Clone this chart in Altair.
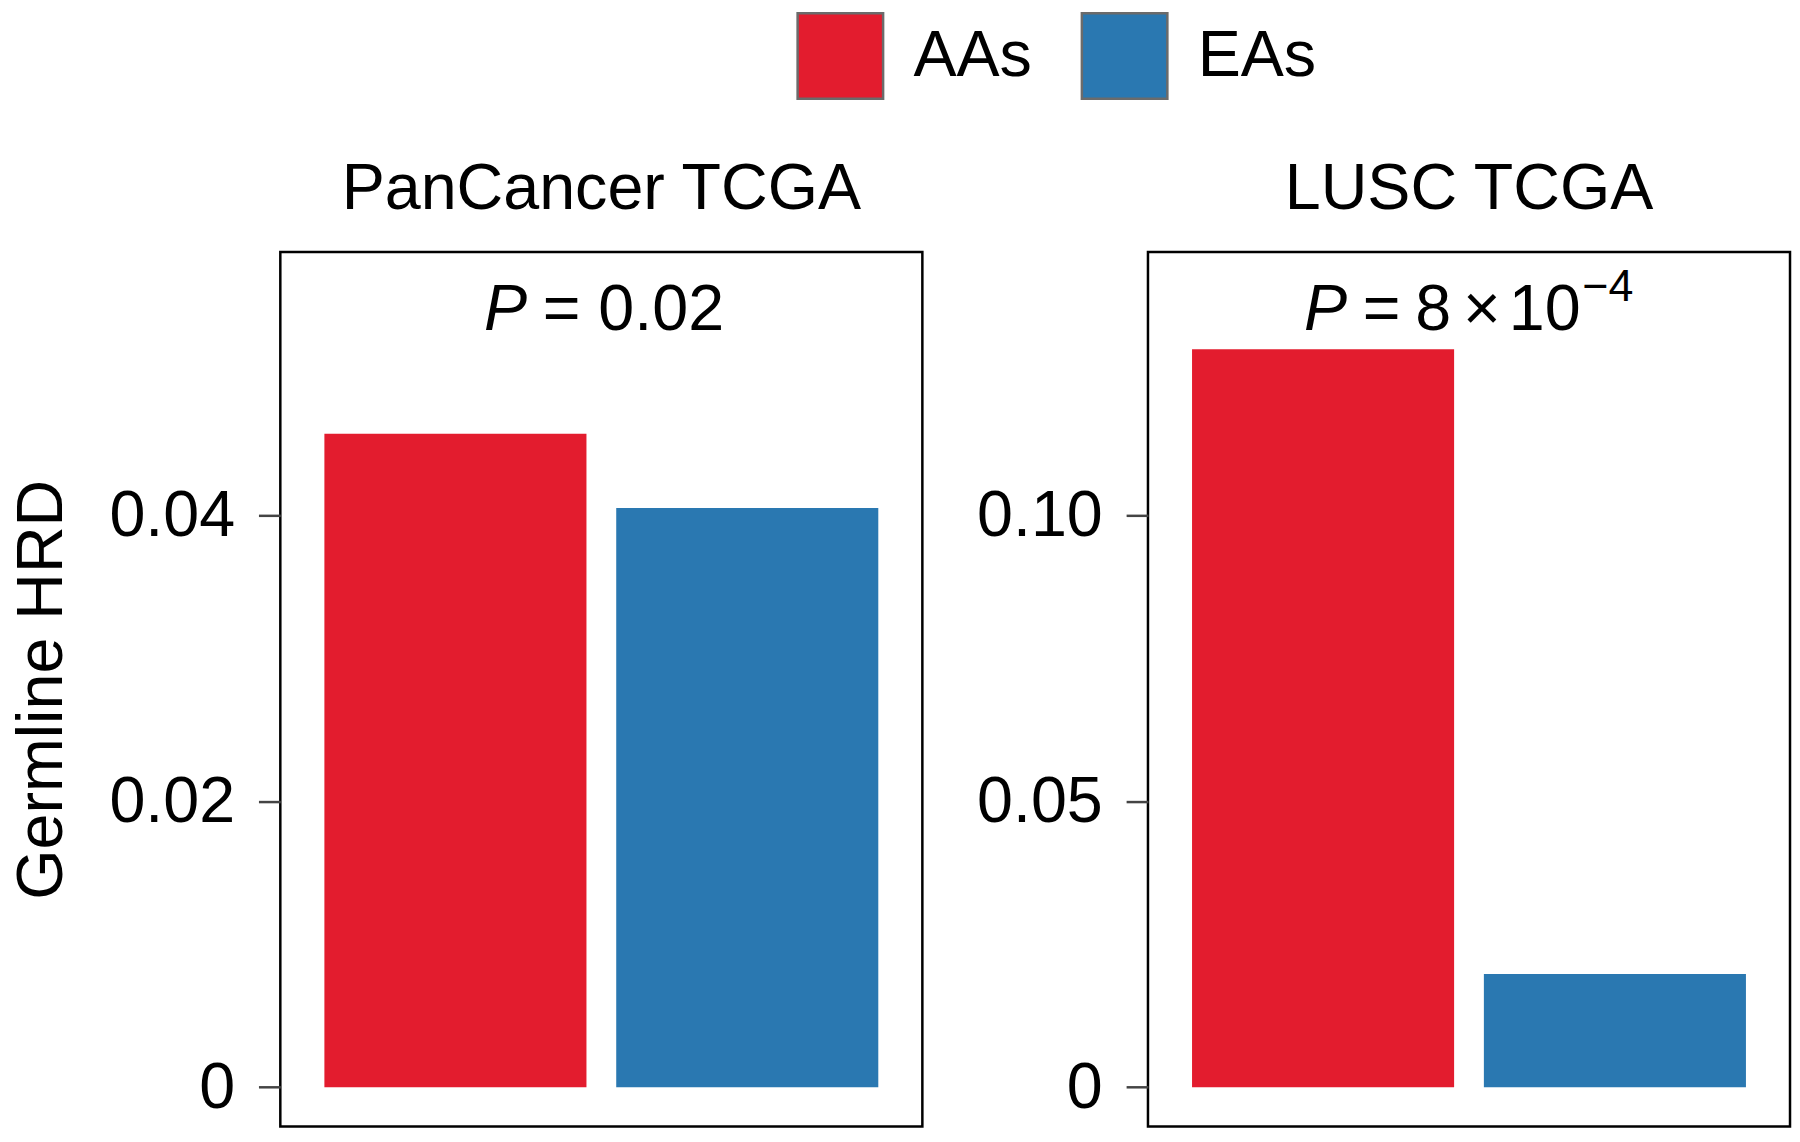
import altair as alt
import pandas as pd

groups = ["AAs", "EAs"]
pancancer_values = [0.0457, 0.0405]
lusc_values = [0.129, 0.0198]
panel_titles = ["PanCancer TCGA", "LUSC TCGA"]
left_ticks = [0, 0.02, 0.04]
right_ticks = [0, 0.05, 0.10]
left_domain = [-0.00275, 0.05841]
right_domain = [-0.00688, 0.14603]
colors = ["#E31C2E", "#2A78B1"]
y_title = "Germline HRD"
p_left = ["P", "=", "0.02"]
p_right = ["P", "=", "8", "\u00d7", "10", "\u22124"]

FONT = "Liberation Sans"
FS = 65
W = 646
H = 880


def text_layer(txt, x, y, size=FS, italic=False):
    df = pd.DataFrame({"t": [txt]})
    return alt.Chart(df).mark_text(
        align="left", baseline="alphabetic", font=FONT, fontSize=size,
        fontStyle="italic" if italic else "normal", color="black"
    ).encode(text="t:N", x=alt.value(x), y=alt.value(y))


def panel(values, title, ticks, domain, show_title, texts):
    df = pd.DataFrame({"group": groups, "value": values})
    axis_kwargs = dict(
        values=ticks, domain=False, grid=False, ticks=True, tickSize=22,
        tickWidth=2.5, tickColor="#444444", labelFont=FONT, labelFontSize=FS,
        labelColor="black", labelPadding=24,
        labelExpr="datum.value == 0 ? '0' : format(datum.value, '.2f')",
    )
    if show_title:
        axis_kwargs.update(title=y_title, titleFont=FONT, titleFontSize=FS,
                           titleFontWeight="normal", titleColor="black",
                           titlePadding=34)
    else:
        axis_kwargs.update(title=None)
    bars = alt.Chart(df).mark_bar().encode(
        x=alt.X("group:N", sort=groups, axis=None,
                scale=alt.Scale(paddingInner=0.102, paddingOuter=0.151)),
        y=alt.Y("value:Q", scale=alt.Scale(domain=domain, nice=False, zero=False),
                axis=alt.Axis(**axis_kwargs)),
        y2=alt.datum(0),
        color=alt.Color("group:N", scale=alt.Scale(domain=groups, range=colors),
                        legend=alt.Legend(
                            orient="none", legendX=519, legendY=-242,
                            direction="horizontal", title=None,
                            symbolType="square", symbolSize=7400,
                            symbolStrokeColor="#6b6b6b", symbolStrokeWidth=2.5,
                            symbolOpacity=1, labelFont=FONT, labelFontSize=FS,
                            labelColor="black", labelOffset=29,
                            columnPadding=44, padding=0)),
    )
    layers = [bars] + texts
    return alt.layer(*layers).properties(
        width=W, height=H,
        title=alt.TitleParams(title, font=FONT, fontSize=FS, fontWeight="normal",
                              color="black", anchor="middle", baseline="alphabetic",
                              offset=-22),
    )


left = panel(pancancer_values, panel_titles[0], left_ticks, left_domain, True, [
    text_layer(p_left[0], 205, 79, italic=True),
    text_layer(p_left[1], 264, 79),
    text_layer(p_left[2], 320, 79),
])
right = panel(lusc_values, panel_titles[1], right_ticks, right_domain, False, [
    text_layer(p_right[0], 157, 79, italic=True),
    text_layer(p_right[1], 216, 79),
    text_layer(p_right[2], 269, 79),
    text_layer(p_right[3], 317, 79),
    text_layer(p_right[4], 363, 79),
    text_layer(p_right[5], 437, 49, size=45),
])

chart = alt.hconcat(left, right, spacing=51).properties(padding=0).configure_view(
    stroke="black", strokeWidth=2.5
)

chart.save("out.html", embed_options={"renderer": "svg", "actions": False})
